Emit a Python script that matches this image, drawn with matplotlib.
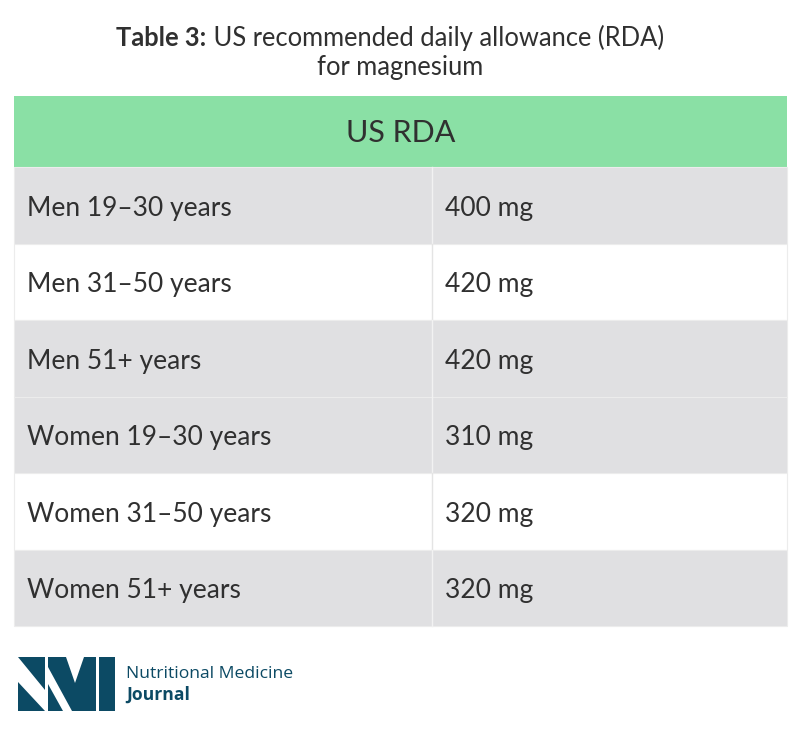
import matplotlib
matplotlib.use("Agg")
import matplotlib.pyplot as plt
from matplotlib.patches import Rectangle, Polygon

# ---- data ----
title_bold = "Table 3:"
title_rest = " US recommended daily allowance (RDA)"
title_line2 = "for magnesium"
header = "US RDA"
groups = ["Men 19\u201330 years", "Men 31\u201350 years", "Men 51+ years",
          "Women 19\u201330 years", "Women 31\u201350 years", "Women 51+ years"]
rda_mg = [400, 420, 420, 310, 320, 320]
unit = "mg"
row_shaded = [True, False, True, True, False, True]
logo_line1 = "Nutritional Medicine"
logo_line2 = "Journal"

W, H = 800, 733
fig = plt.figure(figsize=(W / 100, H / 100), dpi=100)
ax = fig.add_axes([0, 0, 1, 1])
ax.set_xlim(0, W)
ax.set_ylim(H, 0)
ax.axis("off")

FONT = "Lato"
TXT = "#303030"
GREEN = "#8ae0a5"
GRAY = "#e0e0e2"

# title (centered line composed of bold + regular parts)
fig.canvas.draw()
r = fig.canvas.get_renderer()
tb = ax.text(0, 38, title_bold, fontsize=18.4, fontweight="bold", family=FONT,
             color=TXT, va="center", ha="left")
tr = ax.text(0, 38, title_rest, fontsize=18.4, family=FONT, color=TXT,
             va="center", ha="left")
wb = tb.get_window_extent(r).width
wr = tr.get_window_extent(r).width
x0 = 390 - (wb + wr) / 2
tb.set_x(x0)
tr.set_x(x0 + wb)
ax.text(400, 68, title_line2, fontsize=18.4, family=FONT, color=TXT,
        va="center", ha="center")

# table geometry
left, right, colx = 14, 787, 432
head_top, head_bot = 96, 167
row_h = (626 - head_bot) / len(groups)

ax.add_patch(Rectangle((left, head_top), right - left, head_bot - head_top,
                       facecolor=GREEN, edgecolor="none"))
ax.text((left + right) / 2, (head_top + head_bot) / 2 + 2, header, fontsize=22,
        family=FONT, color=TXT, va="center", ha="center")

for i, (g, v, sh) in enumerate(zip(groups, rda_mg, row_shaded)):
    y0 = head_bot + i * row_h
    fc = GRAY if sh else "white"
    ax.add_patch(Rectangle((left, y0), right - left, row_h, facecolor=fc,
                           edgecolor="#ececec", linewidth=0.8))
    ax.plot([colx, colx], [y0, y0 + row_h], color="#f2f2f2" if sh else "#e4e4e4",
            linewidth=1.0)
    yc = y0 + row_h / 2 + 3
    ax.text(27, yc, g, fontsize=19, family=FONT, color=TXT, va="center", ha="left")
    ax.text(445, yc, f"{v} {unit}", fontsize=19, family=FONT, color=TXT,
            va="center", ha="left")

# logo
LOGO = "#0c4a64"
shapes = [
    [(18, 657), (45, 657), (45, 690)],
    [(18, 682), (18, 711), (45, 711)],
    [(48, 657), (66, 657), (75, 683), (84, 657), (96, 657), (96, 711),
     (72, 711), (48, 667)],
    [(48, 684), (48, 711), (63, 711)],
    [(99, 657), (115, 657), (115, 711), (99, 711)],
]
for s in shapes:
    ax.add_patch(Polygon(s, closed=True, facecolor=LOGO, edgecolor="none"))
ax.text(126, 674, logo_line1, fontsize=12.6, family="Open Sans", color=LOGO,
        va="center", ha="left")
ax.text(126, 695, logo_line2, fontsize=12.6, family="Open Sans", fontweight="bold",
        color=LOGO, va="center", ha="left")

fig.savefig("out.png", dpi=100, facecolor="white")
